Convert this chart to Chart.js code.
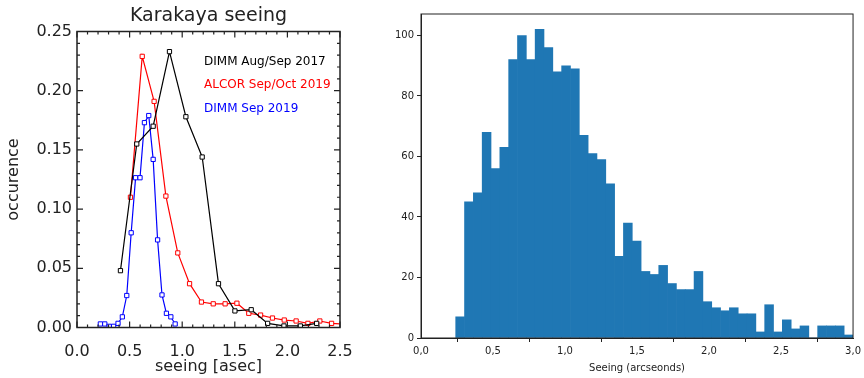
<!DOCTYPE html>
<html>
<head>
<meta charset="utf-8">
<script src="https://cdn.jsdelivr.net/npm/chart.js@4/dist/chart.umd.min.js"></script>
<style>
  body { margin: 0; background: #fff; }
  #wrap { position: relative; width: 864px; height: 378px; }
  canvas { position: absolute; top: 0; }
  #left { left: 0; }
  #right { left: 360px; }
</style>
</head>
<body>
<div id="wrap">
  <canvas id="left" width="360" height="378"></canvas>
  <canvas id="right" width="504" height="378"></canvas>
</div>
<script>
// left panel: seeing distributions
const dimm17X = [0.413, 0.568, 0.724, 0.879, 1.035, 1.190, 1.345, 1.501, 1.656, 1.812, 1.967, 2.123, 2.278];
const dimm17Y = [0.048, 0.155, 0.170, 0.233, 0.178, 0.144, 0.037, 0.014, 0.015, 0.0035, 0.0013, 0.0013, 0.0035];
const alcorX = [0.508, 0.620, 0.733, 0.845, 0.958, 1.070, 1.183, 1.295, 1.408, 1.520, 1.633, 1.745, 1.858, 1.970, 2.083, 2.195, 2.308, 2.420, 2.533];
const alcorY = [0.110, 0.229, 0.191, 0.111, 0.063, 0.037, 0.0215, 0.020, 0.020, 0.0205, 0.012, 0.0105, 0.008, 0.0063, 0.0055, 0.0035, 0.0055, 0.0035, 0.003];
const dimm19X = [0.222, 0.264, 0.306, 0.348, 0.390, 0.431, 0.473, 0.515, 0.557, 0.599, 0.641, 0.682, 0.724, 0.766, 0.808, 0.850, 0.892, 0.933];
const dimm19Y = [0.003, 0.003, 0.001, 0.001, 0.0035, 0.009, 0.027, 0.080, 0.1265, 0.1265, 0.173, 0.179, 0.142, 0.074, 0.0275, 0.012, 0.009, 0.003];
const seriesNames = ['DIMM Aug/Sep 2017', 'ALCOR Sep/Oct 2019', 'DIMM Sep 2019'];

// right panel: histogram of seeing
const binStart = 0.241;
const binWidth = 0.0613;
const binCounts = [7, 45, 48, 68, 56, 63, 92, 100, 92, 102,
                   96, 88, 90, 89, 67, 61, 59, 51, 27, 38,
                   32, 22, 21, 24, 18, 16, 16, 22, 12, 10,
                   9, 10, 8, 8, 2, 11, 2, 6, 3, 4,
                   0, 4, 4, 4, 1];
const xTicksRight = [0, 0.5, 1.0, 1.5, 2.0, 2.5, 3.0];

const ink = '#222';
const pts = (xs, ys) => xs.map((x, i) => ({ x: x, y: ys[i] }));

function lineSet(label, xs, ys, color) {
  return {
    label: label,
    data: pts(xs, ys),
    borderColor: color,
    borderWidth: 1.2,
    pointStyle: 'rect',
    pointRadius: 3,
    pointBorderWidth: 1,
    pointBorderColor: color,
    pointBackgroundColor: '#fff',
    tension: 0
  };
}

// IDL style box with inward ticks on all four sides
const idlFrame = {
  id: 'idlFrame',
  afterDatasetsDraw(chart) {
    const { ctx, chartArea: a, scales: { x, y } } = chart;
    ctx.save();
    ctx.strokeStyle = ink;
    ctx.lineWidth = 1.5;
    ctx.strokeRect(a.left, a.top, a.right - a.left, a.bottom - a.top);
    ctx.lineWidth = 1.2;
    ctx.beginPath();
    for (let i = 0; i <= 25; i++) {
      const px = x.getPixelForValue(i * 0.1);
      const len = i % 5 === 0 ? 6 : 3;
      ctx.moveTo(px, a.bottom); ctx.lineTo(px, a.bottom - len);
      ctx.moveTo(px, a.top); ctx.lineTo(px, a.top + len);
    }
    for (let i = 0; i <= 25; i++) {
      const py = y.getPixelForValue(i * 0.01);
      const len = i % 5 === 0 ? 6 : 3;
      ctx.moveTo(a.left, py); ctx.lineTo(a.left + len, py);
      ctx.moveTo(a.right, py); ctx.lineTo(a.right - len, py);
    }
    ctx.stroke();
    ctx.restore();
  }
};

// coloured text legend inside the plot
const textLegend = {
  id: 'textLegend',
  afterDraw(chart) {
    const { ctx, chartArea: a } = chart;
    ctx.save();
    ctx.font = '12px "DejaVu Sans"';
    ctx.textBaseline = 'middle';
    chart.data.datasets.forEach((ds, i) => {
      ctx.fillStyle = ds.borderColor;
      ctx.fillText(ds.label, a.left + 127, a.top + 30 + i * 23.5);
    });
    ctx.restore();
  }
};

new Chart(document.getElementById('left'), {
  type: 'line',
  data: {
    datasets: [
      lineSet(seriesNames[0], dimm17X, dimm17Y, '#000'),
      lineSet(seriesNames[1], alcorX, alcorY, '#ff0000'),
      lineSet(seriesNames[2], dimm19X, dimm19Y, '#0000ff')
    ]
  },
  options: {
    responsive: false,
    animation: false,
    devicePixelRatio: 1,
    layout: { padding: { left: 0, right: 20, top: 0, bottom: 0 } },
    plugins: {
      legend: { display: false },
      tooltip: { enabled: false },
      title: {
        display: true,
        text: 'Karakaya seeing',
        fullSize: false,
        color: ink,
        font: { family: 'DejaVu Sans', size: 19, weight: 'normal' },
        padding: { top: 5, bottom: 3.7 }
      }
    },
    scales: {
      x: {
        type: 'linear',
        min: 0, max: 2.5,
        grid: { display: false },
        border: { display: false },
        ticks: {
          stepSize: 0.5,
          padding: 7,
          color: ink,
          maxRotation: 0,
          font: { family: 'DejaVu Sans', size: 16 },
          callback: v => v.toFixed(1)
        },
        title: {
          display: true,
          text: 'seeing [asec]',
          color: ink,
          font: { family: 'DejaVu Sans', size: 16 },
          padding: { top: 0, bottom: 2 }
        },
        afterFit: s => { s.height = 50.5; }
      },
      y: {
        min: 0, max: 0.25,
        grid: { display: false },
        border: { display: false },
        ticks: {
          stepSize: 0.05,
          padding: -3,
          color: ink,
          font: { family: 'DejaVu Sans', size: 16 },
          callback: v => v.toFixed(2)
        },
        title: {
          display: true,
          text: 'occurence',
          color: ink,
          font: { family: 'DejaVu Sans', size: 16 },
          padding: { top: 4, bottom: 0 }
        },
        afterFit: s => { s.width = 77; }
      }
    }
  },
  plugins: [idlFrame, textLegend]
});

// matplotlib style box around the histogram
const boxFrame = {
  id: 'boxFrame',
  afterDraw(chart) {
    const { ctx, chartArea: a } = chart;
    ctx.save();
    ctx.strokeStyle = ink;
    ctx.lineWidth = 1;
    ctx.strokeRect(a.left, a.top, a.right - a.left, a.bottom - a.top);
    ctx.restore();
  }
};

const binCenters = binCounts.map((c, i) => binStart + (i + 0.5) * binWidth);

new Chart(document.getElementById('right'), {
  type: 'bar',
  data: {
    datasets: [{
      data: binCounts.map((c, i) => ({ x: binCenters[i], y: c })),
      backgroundColor: '#1f77b4',
      borderWidth: 0,
      barPercentage: 1,
      categoryPercentage: 1
    }]
  },
  options: {
    responsive: false,
    animation: false,
    devicePixelRatio: 1,
    layout: { padding: { left: 0, right: 9, top: 14, bottom: 0 } },
    plugins: { legend: { display: false }, tooltip: { enabled: false } },
    scales: {
      x: {
        type: 'linear',
        min: 0, max: 3,
        offset: false,
        grid: { drawOnChartArea: false, tickLength: 4, tickColor: ink },
        border: { color: ink, width: 1 },
        afterBuildTicks: s => { s.ticks = xTicksRight.map(v => ({ value: v })); },
        ticks: {
          padding: 3,
          color: ink,
          maxRotation: 0,
          autoSkip: false,
          font: { family: 'DejaVu Sans', size: 10 },
          callback: v => v.toFixed(1).replace('.', ',')
        },
        title: {
          display: true,
          text: 'Seeing (arcseonds)',
          color: ink,
          font: { family: 'DejaVu Sans', size: 10 },
          padding: { top: 0, bottom: 4 }
        },
        afterFit: s => { s.height = 40; }
      },
      y: {
        min: 0, max: 107.1,
        grid: { drawOnChartArea: false, tickLength: 4, tickColor: ink },
        border: { color: ink, width: 1 },
        ticks: {
          stepSize: 20,
          includeBounds: false,
          padding: 3,
          color: ink,
          font: { family: 'DejaVu Sans', size: 10 }
        },
        afterFit: s => { s.width = 61; }
      }
    }
  },
  plugins: [boxFrame]
});
</script>
</body>
</html>
